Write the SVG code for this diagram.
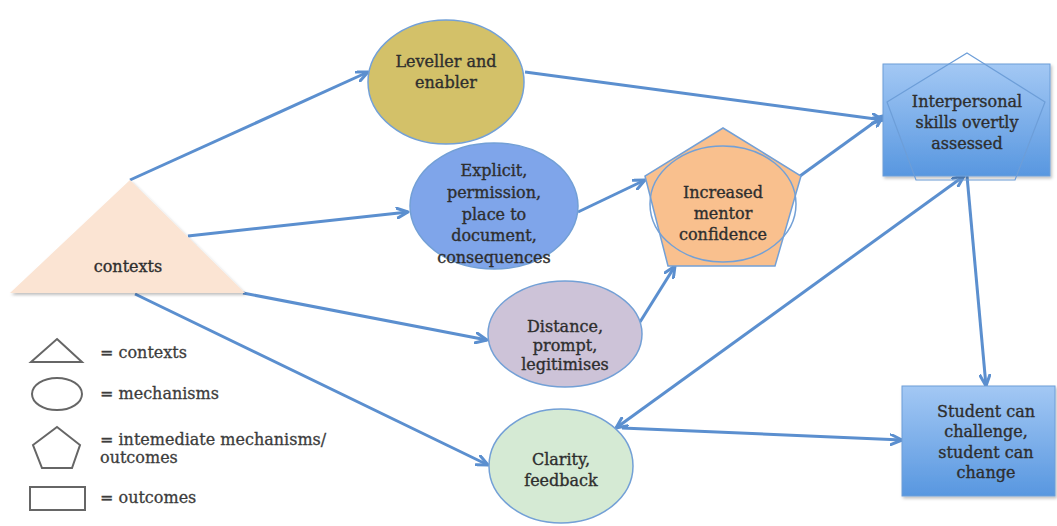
<svg xmlns="http://www.w3.org/2000/svg" width="1057" height="526" viewBox="0 0 1057 526">
<defs>
<style>
.t{font-family:"DejaVu Serif","Liberation Serif",serif;font-size:16px;fill:#2e2e2e;stroke:#2e2e2e;stroke-width:0.35;text-anchor:middle}
.lg{font-family:"DejaVu Serif","Liberation Serif",serif;font-size:16px;fill:#3c3c3c;stroke:#3c3c3c;stroke-width:0.3}
.node{stroke:#73a0d6;stroke-width:1.5}
.c{fill:none;stroke:#5b8fcf;stroke-width:3}
.ls{fill:none;stroke:#666;stroke-width:2}
</style>
<marker id="ah" viewBox="0 0 14 12" refX="12" refY="6" markerWidth="14" markerHeight="12" markerUnits="userSpaceOnUse" orient="auto-start-reverse">
<path d="M1,1 L12,6 L1,11" fill="none" stroke="#5b8fcf" stroke-width="3" stroke-linecap="round" stroke-linejoin="round"/>
</marker>
<linearGradient id="bg" x1="0" y1="0" x2="0" y2="1">
<stop offset="0" stop-color="#a3c8f4"/>
<stop offset="1" stop-color="#5897e0"/>
</linearGradient>
<filter id="sh" x="-10%" y="-10%" width="130%" height="130%">
<feDropShadow dx="1.5" dy="2" stdDeviation="1.5" flood-color="#000" flood-opacity="0.25"/>
</filter>
</defs>
<rect width="1057" height="526" fill="#fff"/>
<g id="connectors">
<line class="c" x1="130" y1="180" x2="368" y2="72" marker-end="url(#ah)"/>
<line class="c" x1="188" y1="236" x2="408" y2="212" marker-end="url(#ah)"/>
<line class="c" x1="243" y1="293" x2="487" y2="340" marker-end="url(#ah)"/>
<line class="c" x1="135" y1="294" x2="488" y2="465" marker-end="url(#ah)"/>
<line class="c" x1="525" y1="72" x2="883" y2="120" marker-end="url(#ah)"/>
<line class="c" x1="578" y1="212" x2="645" y2="180" marker-end="url(#ah)"/>
<line class="c" x1="640" y1="322" x2="675" y2="266" marker-end="url(#ah)"/>
<line class="c" x1="800" y1="176" x2="883" y2="116" marker-end="url(#ah)"/>
<line class="c" x1="967" y1="176" x2="986" y2="386" marker-end="url(#ah)"/>
<line class="c" x1="616" y1="428" x2="964" y2="176" marker-start="url(#ah)" marker-end="url(#ah)"/>
<line class="c" x1="622" y1="428" x2="902" y2="440" marker-end="url(#ah)"/>
</g>
<g id="contexts">
<polygon points="130,180 245,293 10,293" fill="#fbe4d3" filter="url(#sh)"/>
<text class="t" x="128" y="272">contexts</text>
</g>
<g id="leveller">
<ellipse class="node" cx="446" cy="82" rx="78" ry="62" fill="#d3c169"/>
<text class="t" x="446" y="67">Leveller and</text>
<text class="t" x="446" y="88">enabler</text>
</g>
<g id="explicit">
<ellipse class="node" cx="494" cy="206" rx="84" ry="63" fill="#7fa5ea"/>
<text class="t" x="494" y="176">Explicit,</text>
<text class="t" x="494" y="198">permission,</text>
<text class="t" x="494" y="220">place to</text>
<text class="t" x="494" y="241">document,</text>
<text class="t" x="494" y="263">consequences</text>
</g>
<g id="increased">
<polygon class="node" points="723,128 801,176 775,266 668,266 645,176" fill="#f9c08e"/>
<ellipse cx="723" cy="204" rx="73" ry="58" fill="none" stroke="#73a0d6" stroke-width="1.5"/>
<text class="t" x="723" y="198">Increased</text>
<text class="t" x="723" y="219">mentor</text>
<text class="t" x="723" y="240">confidence</text>
</g>
<g id="distance">
<ellipse class="node" cx="565" cy="334" rx="77" ry="53" fill="#cdc3d8"/>
<text class="t" x="565" y="332">Distance,</text>
<text class="t" x="565" y="351">prompt,</text>
<text class="t" x="565" y="370">legitimises</text>
</g>
<g id="clarity">
<ellipse class="node" cx="561" cy="466" rx="72" ry="57" fill="#d5ead4"/>
<text class="t" x="561" y="465">Clarity,</text>
<text class="t" x="561" y="486">feedback</text>
</g>
<g id="interpersonal">
<rect x="883" y="64" width="167" height="112" fill="url(#bg)" stroke="#6d9ed8" stroke-width="1" filter="url(#sh)"/>
<polygon points="967,53 1045,102 1015,180 916,180 887,102" fill="none" stroke="#6d9ed8" stroke-width="1.2"/>
<text class="t" x="967" y="107">Interpersonal</text>
<text class="t" x="967" y="128">skills overtly</text>
<text class="t" x="967" y="149">assessed</text>
</g>
<g id="student">
<rect x="902" y="386" width="153" height="110" fill="url(#bg)" stroke="#6d9ed8" stroke-width="1" filter="url(#sh)"/>
<text class="t" x="986" y="417">Student can</text>
<text class="t" x="986" y="437">challenge,</text>
<text class="t" x="986" y="458">student can</text>
<text class="t" x="986" y="478">change</text>
</g>
<g id="legend">
<polygon class="ls" points="57,339 82,362 31,362"/>
<ellipse class="ls" cx="57" cy="394" rx="25" ry="16"/>
<polygon class="ls" points="57,427 80,445 72,468 42,468 33,445"/>
<rect class="ls" x="30" y="487" width="55" height="23"/>
<text class="lg" x="100" y="358">= contexts</text>
<text class="lg" x="100" y="399">= mechanisms</text>
<text class="lg" x="100" y="445">= intemediate mechanisms/</text>
<text class="lg" x="100" y="463">outcomes</text>
<text class="lg" x="100" y="503">= outcomes</text>
</g>
</svg>
